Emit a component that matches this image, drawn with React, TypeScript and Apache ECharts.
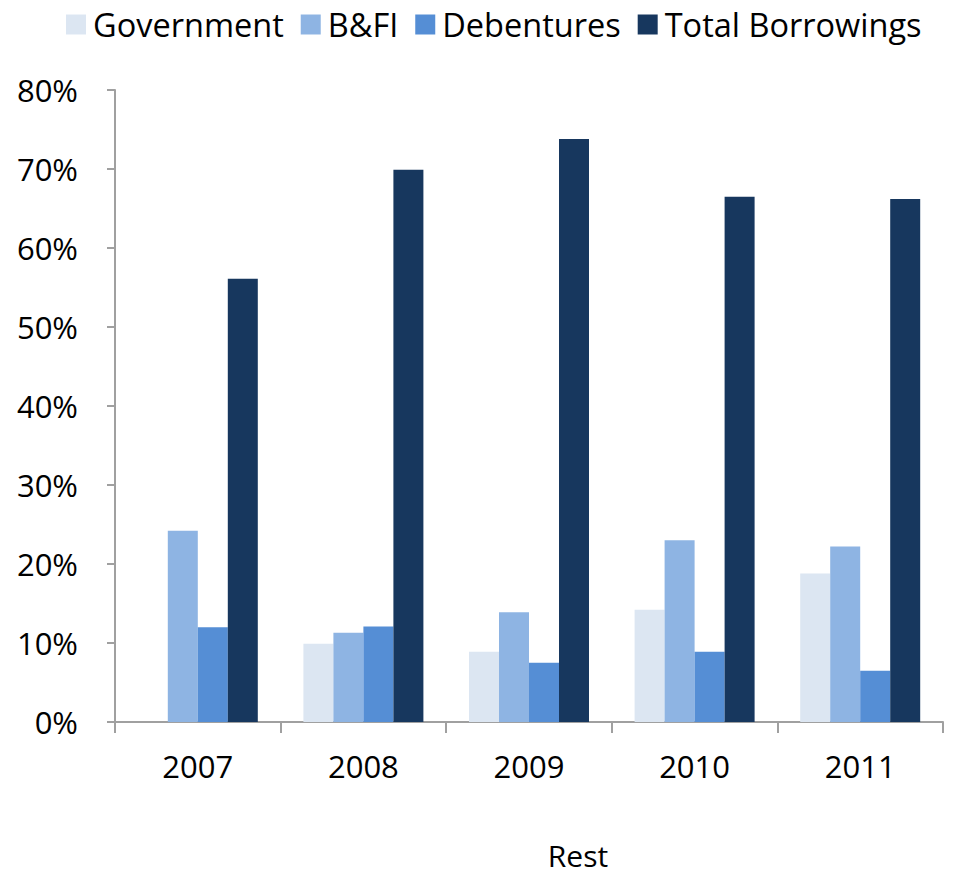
import React, { useEffect, useRef } from "react";
import * as echarts from "echarts";

const years = ["2007", "2008", "2009", "2010", "2011"];
const government = [0, 9.9, 8.9, 14.2, 18.8];
const bfi = [24.2, 11.3, 13.9, 23.0, 22.2];
const debentures = [12.0, 12.1, 7.5, 8.9, 6.5];
const totalBorrowings = [56.1, 69.9, 73.8, 66.5, 66.2];
const yTicks = { min: 0, max: 80, interval: 10 };

const FONT = "'Open Sans', sans-serif";
const AXIS = "#A0A0A0";

export default function App() {
  const ref = useRef<HTMLDivElement>(null);
  useEffect(() => {
    document.body.style.margin = "0";
    const chart = echarts.init(ref.current!, null, { renderer: "svg" });
    const mk = (name: string, data: number[], color: string) => ({
      name,
      type: "bar",
      data,
      barWidth: 30,
      barGap: "0%",
      itemStyle: { color },
    });
    chart.setOption({
      animation: false,
      textStyle: { fontFamily: FONT },
      legend: {
        left: 61,
        top: 3,
        itemWidth: 20,
        itemHeight: 20,
        itemGap: 17,
        textStyle: { fontSize: 32.5, color: "#000", fontFamily: FONT, padding: [0, 0, 0, 2] },
        icon: "rect",
      },
      grid: { left: 115, right: 10, top: 90, bottom: 152, containLabel: false },
      xAxis: {
        type: "category",
        data: years,
        axisLine: { lineStyle: { color: AXIS, width: 2 } },
        axisTick: { show: true, alignWithLabel: false, length: 11, lineStyle: { color: AXIS, width: 2 } },
        axisLabel: { fontSize: 31, color: "#000", margin: 28, fontFamily: FONT },
      },
      yAxis: {
        type: "value",
        min: yTicks.min,
        max: yTicks.max,
        interval: yTicks.interval,
        axisLine: { show: true, lineStyle: { color: AXIS, width: 2 } },
        axisTick: { show: true, length: 8, lineStyle: { color: AXIS, width: 2 } },
        splitLine: { show: false },
        axisLabel: { fontSize: 31, color: "#000", margin: 37, formatter: "{value}%", fontFamily: FONT },
      },
      graphic: [
        {
          type: "text",
          x: 578,
          y: 855,
          style: {
            text: "Rest",
            fontSize: 30,
            lineHeight: 30,
            fontFamily: FONT,
            fill: "#000",
            textAlign: "center",
            textVerticalAlign: "middle",
          },
        },
      ],
      series: [
        mk("Government", government, "#DCE6F2"),
        mk("B&FI", bfi, "#8EB4E3"),
        mk("Debentures", debentures, "#558ED5"),
        mk("Total Borrowings", totalBorrowings, "#17375E"),
      ],
    });
    return () => chart.dispose();
  }, []);
  return <div ref={ref} style={{ width: 953, height: 874 }} />;
}
